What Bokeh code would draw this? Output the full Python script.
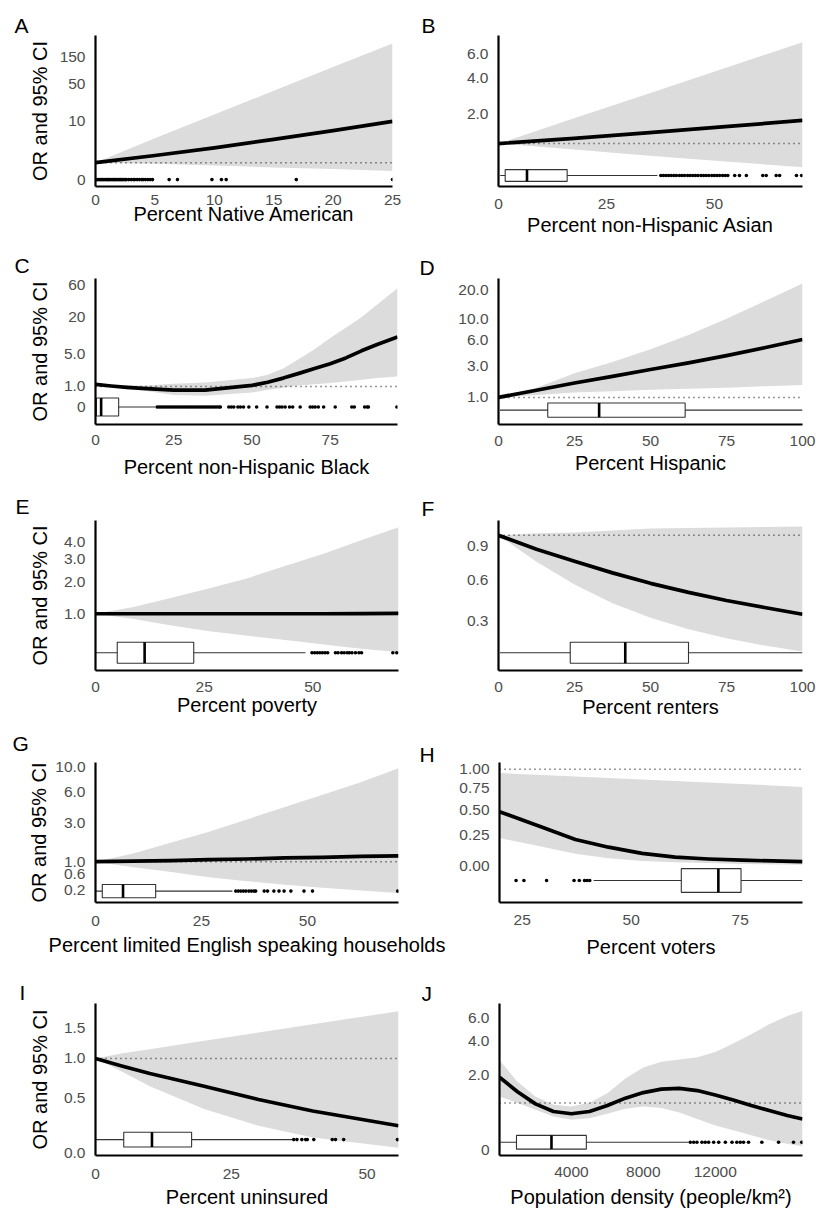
import math
import numpy as np
from bokeh.plotting import figure
from bokeh.models import Range1d, FixedTicker, CustomJSTickFormatter, Title
from bokeh.layouts import column, row
from bokeh.embed import file_html
from bokeh.resources import INLINE

FONT = "Liberation Sans"
TICK_COLOR = "#4d4d4d"
BAND = "#dcdcdc"
BOXLINE = "#333333"

# ---------------- data: odds ratios (OR) and 95% CI ----------------
A_x = [0, 5, 10, 15, 20, 25]
A_or = [1.0, 1.69, 2.67, 4.21, 6.46, 9.9]
A_lo = [1.0, 0.92, 0.78, 0.65, 0.54, 0.42]
A_hi = [1.0, 4.47, 13.5, 37.2, 100, 266]
A_box = None
A_pts = [0.0, 0.1, 0.2, 0.3, 0.4, 0.5, 0.6, 0.7, 0.8, 0.9, 1.0, 1.1, 1.2, 1.3, 1.4, 1.5, 1.6,
         1.7, 1.8, 1.9, 2.0, 2.1, 2.2, 2.3, 2.4, 2.5, 2.6, 2.8, 3.0, 3.2, 3.3, 3.5, 3.7, 3.9,
         4.0, 4.2, 4.4, 4.6, 4.8, 6.2, 6.9, 9.8, 10.6, 11.0, 16.9, 25.0]

B_x = [0, 17.5, 35, 52.5, 70.4]
B_or = [1.0, 1.15, 1.33, 1.53, 1.76]
B_lo = [1.0, 0.84, 0.69, 0.56, 0.44]
B_hi = [1.0, 1.84, 3.03, 4.73, 7.2]
B_box = [0.4, 1.55, 6.6, 15.9, 36.8]   # whisker low, q1, median, q3, whisker high
B_pts = [37.6, 38.2, 38.8, 39.4, 40.0, 40.6, 41.2, 41.9, 42.5, 43.1, 43.8, 44.4, 45.0, 45.6,
         46.2, 46.9, 47.5, 48.1, 48.7, 49.4, 50.0, 50.6, 51.2, 51.9, 52.5, 53.1, 54.7, 55.8,
         57.4, 61.2, 62.0, 64.3, 65.1, 69.0, 70.2]

C_x = [0, 5, 10, 15, 25, 35, 50, 55, 60, 65, 70, 75, 80, 85, 90, 96.5]
C_or = [1.14, 1.03, 0.94, 0.87, 0.77, 0.77, 1.07, 1.30, 1.65, 2.11, 2.67, 3.31, 4.24, 5.66, 7.25, 9.6]
C_lo = [1.14, 0.97, 0.85, 0.74, 0.50, 0.46, 0.63, 0.78, 0.91, 1.07, 1.16, 1.25, 1.36, 1.51, 1.65, 1.80]
C_hi = [1.14, 1.10, 1.05, 1.05, 1.18, 1.28, 1.65, 1.96, 2.66, 4.07, 6.0, 9.3, 13.5, 19.8, 30.9, 54.0]
C_box = [0.0, 0.3, 1.8, 7.4, 19.1]
C_pts = [19.7, 20.3, 20.9, 21.5, 22.1, 22.7, 23.3, 23.9, 24.5, 25.1, 25.7, 26.3, 26.9, 27.5,
         28.1, 28.7, 29.3, 29.9, 30.5, 31.1, 31.7, 32.3, 32.9, 33.5, 34.1, 34.7, 35.3, 35.9,
         36.5, 37.1, 37.7, 38.3, 38.9, 39.5, 39.9, 42.6, 43.4, 44.2, 45.5, 46.3, 47.3, 49.0,
         51.5, 54.8, 58.0, 58.8, 59.6, 60.6, 62.0, 63.0, 65.4, 68.6, 69.4, 70.2, 71.2, 72.9,
         76.6, 81.9, 82.7, 86.0, 86.8, 87.2, 96.3]

D_x = [0, 12.5, 25, 37.5, 50, 62.5, 75, 87.5, 100]
D_or = [1.0, 1.34, 1.74, 2.17, 2.68, 3.26, 3.99, 4.92, 6.10]
D_lo = [1.0, 1.11, 1.23, 1.29, 1.36, 1.42, 1.47, 1.56, 1.62]
D_hi = [1.0, 1.47, 2.39, 3.33, 4.73, 6.85, 10.15, 15.4, 23.1]
D_box = [0.5, 16.2, 33.1, 61.4, 100.0]
D_pts = []

E_x = [0, 8.75, 17.5, 26.25, 35, 43.75, 52.5, 61.1, 69.7]
E_or = [1.0, 1.0, 1.0, 1.0, 1.0, 1.0, 1.0, 1.005, 1.01]
E_lo = [1.0, 0.87, 0.72, 0.60, 0.51, 0.43, 0.35, 0.28, 0.23]
E_hi = [1.0, 1.18, 1.45, 1.77, 2.15, 2.69, 3.30, 4.10, 5.03]
E_box = [0.0, 5.0, 11.3, 22.6, 48.3]
E_pts = [49.8, 50.4, 51.0, 51.6, 52.2, 52.8, 53.4, 55.2, 55.8, 56.6, 57.2, 57.9, 58.4, 59.0,
         59.8, 60.6, 61.2, 68.4, 69.3]

F_x = [0, 12.5, 25, 37.5, 50, 62.5, 75, 87.5, 100]
F_or = [1.0, 0.865, 0.755, 0.655, 0.57, 0.50, 0.44, 0.39, 0.343]
F_lo = [1.0, 0.75, 0.56, 0.42, 0.32, 0.246, 0.19, 0.147, 0.113]
F_hi = [1.0, 1.02, 1.03, 1.05, 1.07, 1.075, 1.08, 1.085, 1.09]
F_box = [0.5, 23.6, 41.7, 62.5, 100.0]
F_pts = []

G_x = [0, 8.9, 17.9, 26.8, 35.75, 44.7, 53.6, 62.6, 71.5]
G_or = [1.0, 1.02, 1.04, 1.08, 1.10, 1.14, 1.16, 1.20, 1.22]
G_lo = [1.0, 0.81, 0.665, 0.51, 0.41, 0.32, 0.25, 0.19, 0.14]
G_hi = [1.0, 1.32, 1.82, 2.43, 3.28, 4.35, 5.67, 7.35, 9.72]
G_box = [0.0, 1.6, 6.5, 14.2, 32.3]
G_pts = [33.1, 33.7, 34.3, 34.9, 35.5, 36.2, 36.8, 37.4, 37.8, 39.8, 40.6, 42.1, 43.3, 44.5,
         46.1, 49.2, 51.2, 71.3]

H_x = [19.8, 29.6, 37.2, 44.8, 52.5, 60.1, 67.7, 75.4, 89.3]
H_or = [0.478, 0.323, 0.212, 0.147, 0.097, 0.068, 0.054, 0.045, 0.034]
H_lo = [0.225, 0.15, 0.095, 0.06, 0.04, 0.03, 0.024, 0.018, 0.011]
H_hi = [0.948, 0.92, 0.90, 0.88, 0.86, 0.84, 0.82, 0.80, 0.764]
H_box = [41.4, 61.5, 70.0, 75.2, 89.3]
H_pts = [23.6, 25.4, 30.6, 36.9, 38.1, 39.3, 39.9, 40.5]

I_x = [0, 5, 10, 20, 30, 40, 55.8]
I_or = [1.0, 0.89, 0.79, 0.63, 0.48, 0.36, 0.22]
I_lo = [1.0, 0.81, 0.63, 0.38, 0.22, 0.12, 0.037]
I_hi = [1.0, 1.08, 1.14, 1.28, 1.42, 1.57, 1.83]
I_box = [0.0, 5.2, 10.4, 17.7, 36.2]
I_pts = [36.5, 37.1, 38.0, 38.7, 39.0, 40.2, 43.6, 44.2, 45.7, 55.6]

J_x = [0, 1000, 2000, 3000, 4000, 5000, 6000, 7000, 8000, 9000, 10000, 11000, 12000, 13000,
       14000, 15000, 16000, 16850]
J_or = [1.92, 1.36, 0.975, 0.766, 0.707, 0.766, 0.927, 1.147, 1.33, 1.45, 1.48, 1.40, 1.25,
        1.09, 0.927, 0.79, 0.665, 0.58]
J_lo = [1.20, 1.00, 0.81, 0.64, 0.565, 0.60, 0.71, 0.84, 0.90, 0.855, 0.74, 0.58, 0.44, 0.34,
        0.245, 0.157, 0.098, 0.06]
J_hi = [2.75, 1.73, 1.20, 0.95, 0.90, 1.01, 1.31, 1.87, 2.37, 2.66, 2.79, 2.92, 3.23, 3.79,
        4.48, 5.34, 6.16, 6.70]
J_box = [50, 945, 2890, 4830, 10520]
J_pts = [10610, 10800, 10980, 11260, 11440, 11630, 11910, 12190, 12560, 12930, 13200, 13390,
         13570, 13850, 14590, 15520, 16350, 16810]

# ---------------- axes: ticks and titles ----------------
A_xticks = [0, 5, 10, 15, 20, 25]; A_yticks = [0, 10, 50, 150]; A_ylab = ["0", "10", "50", "150"]
B_xticks = [0, 25, 50]; B_yticks = [2.0, 4.0, 6.0]; B_ylab = ["2.0", "4.0", "6.0"]
C_xticks = [0, 25, 50, 75]; C_yticks = [0, 1.0, 5.0, 20, 60]; C_ylab = ["0", "1.0", "5.0", "20", "60"]
D_xticks = [0, 25, 50, 75, 100]; D_yticks = [1.0, 3.0, 6.0, 10.0, 20.0]; D_ylab = ["1.0", "3.0", "6.0", "10.0", "20.0"]
E_xticks = [0, 25, 50]; E_yticks = [1.0, 2.0, 3.0, 4.0]; E_ylab = ["1.0", "2.0", "3.0", "4.0"]
F_xticks = [0, 25, 50, 75, 100]; F_yticks = [0.3, 0.6, 0.9]; F_ylab = ["0.3", "0.6", "0.9"]
G_xticks = [0, 25, 50]; G_yticks = [0.2, 0.6, 1.0, 3.0, 6.0, 10.0]; G_ylab = ["0.2", "0.6", "1.0", "3.0", "6.0", "10.0"]
H_xticks = [25, 50, 75]; H_yticks = [0.0, 0.25, 0.5, 0.75, 1.0]; H_ylab = ["0.00", "0.25", "0.50", "0.75", "1.00"]
I_xticks = [0, 25, 50]; I_yticks = [0.0, 0.5, 1.0, 1.5]; I_ylab = ["0.0", "0.5", "1.0", "1.5"]
J_xticks = [4000, 8000, 12000]; J_yticks = [0, 2.0, 4.0, 6.0]; J_ylab = ["0", "2.0", "4.0", "6.0"]

Y_TITLE = "OR and 95% CI"

# ---------------- layout (page pixels) ----------------
ROW_Y = [0, 240, 480, 720, 960]
ROW_H = [240, 240, 240, 240, 250]

# letters: (text, offset from frame left, standoff); first = figure title, rest = extra titles
PANELS = [
    dict(d=(A_x, A_or, A_lo, A_hi), box=A_box, pts=A_pts, fx=(0, 408), r=0,
         frame=(95, 35, 392, 188), xlim=(0, 25), ylim=(-0.283, 5.911), brow=0.0, bpx=0,
         xt=A_xticks, yt=A_yticks, yl=A_ylab, title="Percent Native American",
         so=8, als=-5, yals=6, letters=[("A", -81, -2)], ytitle=True),
    dict(d=(B_x, B_or, B_lo, B_hi), box=B_box, pts=B_pts, fx=(408, 408), r=0,
         frame=(498, 35, 802, 186), xlim=(0, 70.4), ylim=(0.095, 2.198), brow=0.248, bpx=11.7,
         xt=B_xticks, yt=B_yticks, yl=B_ylab, title="Percent non-Hispanic Asian",
         so=12, als=2, yals=0, letters=[("B", -77, -3)], ytitle=False),
    dict(d=(C_x, C_or, C_lo, C_hi), box=C_box, pts=C_pts, fx=(0, 408), r=1,
         frame=(95, 278, 397, 430), xlim=(0, 96.5), ylim=(-0.594, 4.341), brow=0.0, bpx=18,
         xt=C_xticks, yt=C_yticks, yl=C_ylab, title="Percent non-Hispanic Black",
         so=10, als=8, yals=10, letters=[("C", -81, 3)], ytitle=True),
    dict(d=(D_x, D_or, D_lo, D_hi), box=D_box, pts=D_pts, fx=(408, 408), r=1,
         frame=(498, 278, 802, 430), xlim=(0, 100), ylim=(0.101, 3.294), brow=0.416, bpx=14.3,
         xt=D_xticks, yt=D_yticks, yl=D_ylab, title="Percent Hispanic",
         so=11, als=3, yals=0, letters=[("D", -79, -1)], ytitle=False),
    dict(d=(E_x, E_or, E_lo, E_hi), box=E_box, pts=E_pts, fx=(0, 408), r=2,
         frame=(95, 520, 398, 672), xlim=(0, 69.7), ylim=(-0.030, 1.882), brow=0.196, bpx=21,
         xt=E_xticks, yt=E_yticks, yl=E_ylab, title="Percent poverty",
         so=11, als=-1, yals=10, letters=[("E", -80, 5)], ytitle=True),
    dict(d=(F_x, F_or, F_lo, F_hi), box=F_box, pts=F_pts, fx=(408, 408), r=2,
         frame=(498, 520, 802, 672), xlim=(0, 100), ylim=(0.0114, 0.768), brow=0.101, bpx=21,
         xt=F_xticks, yt=F_yticks, yl=F_ylab, title="Percent renters",
         so=11, als=1, yals=0, letters=[("F", -77, 1)], ytitle=False),
    dict(d=(G_x, G_or, G_lo, G_hi), box=G_box, pts=G_pts, fx=(0, 446), r=3,
         frame=(95, 762, 398, 913), xlim=(0, 71.5), ylim=(-0.04, 2.477), brow=0.165, bpx=13.3,
         xt=G_xticks, yt=G_yticks, yl=G_ylab, title="Percent limited English speaking households",
         so=13, als=5, yals=2, letters=[("G", -83, -21), ("H", 324, -7)], ytitle=True),
    dict(d=(H_x, H_or, H_lo, H_hi), box=H_box, pts=H_pts, fx=(446, 370), r=3,
         frame=(499, 762, 802, 913), xlim=(19.8, 89.3), ylim=(-0.258, 0.742), brow=-0.101, bpx=23.7,
         xt=H_xticks, yt=H_yticks, yl=H_ylab, title="Percent voters",
         so=12, als=8, yals=0, letters=[], ytitle=False),
    dict(d=(I_x, I_or, I_lo, I_hi), box=I_box, pts=I_pts, fx=(0, 408), r=4,
         frame=(95, 1003, 398, 1156), xlim=(0, 55.8), ylim=(-0.0197, 1.097), brow=0.097, bpx=14.7,
         xt=I_xticks, yt=I_yticks, yl=I_ylab, title="Percent uninsured",
         so=13, als=4, yals=10, letters=[("I", -76, 0)], ytitle=True),
    dict(d=(J_x, J_or, J_lo, J_hi), box=J_box, pts=J_pts, fx=(408, 408), r=4,
         frame=(499, 1003, 802, 1156), xlim=(0, 16850), ylim=(-0.0773, 2.153), brow=0.117, bpx=13.7,
         xt=J_xticks, yt=J_yticks, yl=J_ylab, title="Population density (people/km²)",
         so=11, als=6, yals=0, letters=[("J", -78, -3)], ytitle=False),
]


def tick_fmt(ticks, labels):
    return CustomJSTickFormatter(args=dict(t=[float(v) for v in ticks], l=list(labels)), code="""
        let b = 0, d = Infinity;
        for (let i = 0; i < t.length; i++) {
            const e = Math.abs(t[i] - tick);
            if (e < d) { d = e; b = i; }
        }
        return l[b];
    """)


def style_title(t, text, offset, standoff):
    t.text = text
    t.text_font = FONT
    t.text_font_size = "21px"
    t.text_font_style = "normal"
    t.text_color = "black"
    t.align = "left"
    t.offset = offset
    t.standoff = standoff


def build(P):
    x0, W = P["fx"]
    y0 = ROW_Y[P["r"]]
    H = ROW_H[P["r"]]
    fl, ft, fr, fb = P["frame"]
    xa, xb = P["xlim"]
    ya, yb = P["ylim"]
    p = figure(width=W, height=H, x_range=Range1d(xa, xb), y_range=Range1d(ya, yb),
               output_backend="svg", toolbar_location=None,
               min_border_left=fl - x0, min_border_right=x0 + W - fr,
               min_border_top=ft - y0, min_border_bottom=y0 + H - fb)
    p.outline_line_color = None
    p.grid.visible = False
    p.background_fill_color = "white"
    p.border_fill_color = "white"

    xs, ors, los, his = P["d"]
    T = np.log1p
    p.varea(x=xs, y1=T(np.array(los)), y2=T(np.array(his)), fill_color=BAND, fill_alpha=1.0)
    p.line([xa, xb], [T(1.0), T(1.0)], line_dash="1 4", line_width=1.5, line_color="#333333")
    p.line(xs, T(np.array(ors)), line_width=3.7, line_color="black", line_join="round")

    by = P["brow"]
    if P["box"] is not None:
        wlo, q1, med, q3, whi = P["box"]
        p.segment(x0=[wlo], y0=[by], x1=[whi], y1=[by], line_color=BOXLINE, line_width=1.1)
        p.rect(x=[(q1 + q3) / 2], y=[by], width=[q3 - q1], height=P["bpx"], height_units="screen",
               fill_color="white", line_color=BOXLINE, line_width=1.1)
        p.rect(x=[med], y=[by], width=2.6, width_units="screen", height=P["bpx"],
               height_units="screen", fill_color="black", line_color=None)
    if P["pts"]:
        p.scatter(x=P["pts"], y=[by] * len(P["pts"]), size=3.6, fill_color="black",
                  line_color=None)

    for ax in (p.xaxis[0], p.yaxis[0]):
        ax.axis_line_width = 2.2
        ax.axis_line_color = "black"
        ax.major_tick_line_color = None
        ax.minor_tick_line_color = None
        ax.major_tick_out = 0
        ax.major_tick_in = 0
        ax.minor_tick_out = 0
        ax.minor_tick_in = 0
        ax.major_label_text_font = FONT
        ax.major_label_text_font_size = "15.5px"
        ax.major_label_text_color = TICK_COLOR
        ax.axis_label_text_font = FONT
        ax.axis_label_text_font_size = "20px"
        ax.axis_label_text_font_style = "normal"
        ax.axis_label_text_color = "black"

    yt = [float(v) for v in T(np.array(P["yt"], dtype=float))]
    p.yaxis[0].ticker = FixedTicker(ticks=yt, minor_ticks=[])
    p.yaxis[0].formatter = tick_fmt(yt, P["yl"])
    p.yaxis[0].major_label_standoff = 10
    if P["ytitle"]:
        p.yaxis[0].axis_label = Y_TITLE
        p.yaxis[0].axis_label_standoff = P["yals"]
    p.xaxis[0].ticker = FixedTicker(ticks=[float(v) for v in P["xt"]], minor_ticks=[])
    p.xaxis[0].formatter = tick_fmt(P["xt"], [str(v) for v in P["xt"]])
    p.xaxis[0].major_label_standoff = P["so"]
    p.xaxis[0].axis_label = P["title"]
    p.xaxis[0].axis_label_standoff = P["als"]

    if P["letters"]:
        text, off, so = P["letters"][0]
        style_title(p.title, text, off, so)
        for text, off, so in P["letters"][1:]:
            t = Title()
            style_title(t, text, off, so)
            p.add_layout(t, "above")
    return p


figs = [build(P) for P in PANELS]
layout = column(*[row(figs[2 * i], figs[2 * i + 1]) for i in range(5)])

open("out.html", "w").write(file_html(layout, INLINE))
